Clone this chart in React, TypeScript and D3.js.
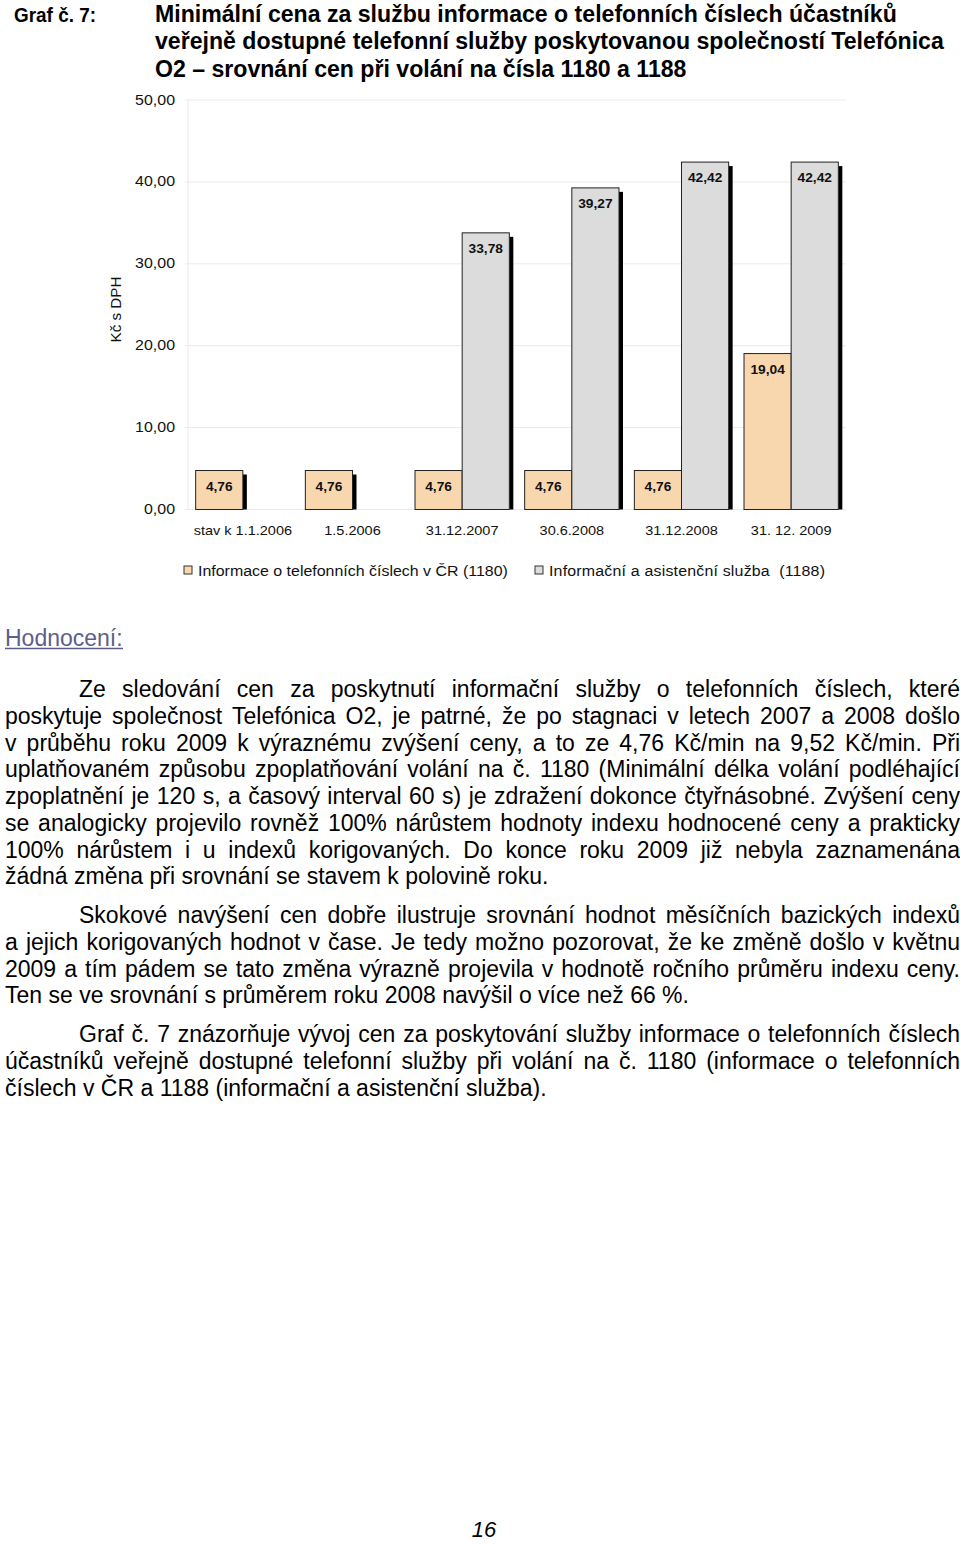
import React, { useMemo } from "react";
import * as d3 from "d3";

const categories = ["stav k 1.1.2006", "1.5.2006", "31.12.2007", "30.6.2008", "31.12.2008", "31. 12. 2009"];
const series1180 = [4.76, 4.76, 4.76, 4.76, 4.76, 19.04];
const series1188: (number | null)[] = [null, null, 33.78, 39.27, 42.42, 42.42];
const seriesNames = ["Informace o telefonních číslech v ČR (1180)", "Informační a asistenční služba \u00a0(1188)"];
const yTicks = [0, 10, 20, 30, 40, 50];
const yTitle = "Kč s DPH";

const titleLabel = "Graf č. 7:";
const titleLines = [
  "Minimální cena za službu informace o telefonních číslech účastníků",
  "veřejně dostupné telefonní služby poskytovanou společností Telefónica",
  "O2 – srovnání cen při volání na čísla 1180 a 1188",
];
const heading = "Hodnocení:";
const paragraphs: string[][] = [
  [
    "Ze sledování cen za poskytnutí informační služby o telefonních číslech, které",
    "poskytuje společnost Telefónica O2, je patrné, že po stagnaci v letech 2007 a 2008 došlo",
    "v průběhu roku 2009 k výraznému zvýšení ceny, a to ze 4,76 Kč/min na 9,52 Kč/min. Při",
    "uplatňovaném způsobu zpoplatňování volání na č. 1180 (Minimální délka volání podléhající",
    "zpoplatnění je 120 s, a časový interval 60 s) je zdražení dokonce čtyřnásobné. Zvýšení ceny",
    "se analogicky projevilo rovněž 100% nárůstem hodnoty indexu hodnocené ceny a prakticky",
    "100% nárůstem i u indexů korigovaných. Do konce roku 2009 již nebyla zaznamenána",
    "žádná změna při srovnání se stavem k polovině roku.",
  ],
  [
    "Skokové navýšení cen dobře ilustruje srovnání hodnot měsíčních bazických indexů",
    "a jejich korigovaných hodnot v čase. Je tedy možno pozorovat, že ke změně došlo v květnu",
    "2009 a tím pádem se tato změna výrazně projevila v hodnotě ročního průměru indexu ceny.",
    "Ten se ve srovnání s průměrem roku 2008 navýšil o více než 66 %.",
  ],
  [
    "Graf č. 7 znázorňuje vývoj cen za poskytování služby informace o telefonních číslech",
    "účastníků veřejně dostupné telefonní služby při volání na č. 1180 (informace o telefonních",
    "číslech v ČR a 1188 (informační a asistenční služba).",
  ],
];
const paragraphTops = [697, 923, 1042];
const pageNumber = "16";

const FONT = "'Liberation Sans', Arial, sans-serif";
const COLORS = ["#F9D7AE", "#DCDCDC"];
const SX = 1.1;

function SText({ x, y, size, anchor = "start", weight = "normal", length, children }: any) {
  return (
    <text
      transform={`translate(${x},${y}) scale(${SX},1)`}
      fontSize={size}
      fontWeight={weight}
      textAnchor={anchor}
      fontFamily={FONT}
      fill="#111"
      textLength={length}
      lengthAdjust={length ? "spacing" : undefined}
    >
      {children}
    </text>
  );
}

function JustifiedLine({ text, x0, x1, y, size, justify }: { text: string; x0: number; x1: number; y: number; size: number; justify: boolean }) {
  const words = text.split(" ");
  const positions = useMemo(() => {
    const c = document.createElement("canvas").getContext("2d")!;
    c.font = `${size}px 'Liberation Sans'`;
    const widths = words.map((w) => c.measureText(w).width);
    const total = widths.reduce((a, b) => a + b, 0);
    const space = c.measureText(" ").width;
    const gap = justify && words.length > 1 ? (x1 - x0 - total) / (words.length - 1) : space;
    const xs: number[] = [];
    let x = x0;
    widths.forEach((w) => {
      xs.push(x);
      x += w + gap;
    });
    return xs;
  }, [text, x0, x1, size, justify]);
  return (
    <text y={y} fontSize={size} fontFamily={FONT} fill="#000">
      {words.map((w, i) => (
        <tspan key={i} x={positions[i]}>
          {w}
        </tspan>
      ))}
    </text>
  );
}

export default function App() {
  const W = 960;
  const H = 1547;
  const plotLeft = 188;
  const plotRight = 846;
  const y = d3.scaleLinear().domain([0, 50]).range([509.5, 100]);
  const x = d3.scaleBand<string>().domain(categories).range([plotLeft, plotRight]).paddingInner(0.14).paddingOuter(0.07);
  const xi = d3.scaleBand<number>().domain([0, 1]).range([0, x.bandwidth()]);
  const fmt = (v: number) => d3.format(".2f")(v).replace(".", ",");

  const bars: { key: string; x: number; w: number; v: number; s: number }[] = [];
  categories.forEach((c, i) => {
    [series1180[i], series1188[i]].forEach((v, s) => {
      if (v == null) return;
      bars.push({ key: `${c}-${s}`, x: (x(c) as number) + (xi(s) as number), w: xi.bandwidth(), v, s });
    });
  });

  const bodySize = 23;
  const lineH = 26.75;
  const titleBase = [21.7, 49.4, 77.1];

  return (
    <svg width={W} height={H} style={{ position: "absolute", left: 0, top: 0, display: "block", background: "#fff" }}>
      {/* Title */}
      <text x={14} y={21.7} fontSize={21} fontWeight="bold" fontFamily={FONT} textLength={82} lengthAdjust="spacingAndGlyphs">
        {titleLabel}
      </text>
      {titleLines.map((t, i) => (
        <text key={i} x={155} y={titleBase[i]} fontSize={23.1} fontWeight="bold" fontFamily={FONT}>
          {t}
        </text>
      ))}

      {/* Gridlines */}
      {yTicks.map((t) => (
        <line key={t} x1={plotLeft - 3} x2={plotRight} y1={y(t)} y2={y(t)} stroke="#EBEBEB" strokeWidth={1} />
      ))}
      <line x1={plotLeft} x2={plotLeft} y1={y(50)} y2={y(0)} stroke="#EBEBEB" strokeWidth={1} />
      {yTicks.map((t) => (
        <SText key={t} x={175} y={y(t) + 4.5} size={14.5} anchor="end">
          {fmt(t)}
        </SText>
      ))}
      <text transform={`translate(121,309.5) rotate(-90) scale(${SX},1)`} fontSize={13.8} textAnchor="middle" fontFamily={FONT} fill="#111">
        {yTitle}
      </text>

      {/* Shadows */}
      {bars.map((b) => (
        <rect key={"sh" + b.key} x={b.x + b.w} y={y(b.v) + 4} width={4} height={y(0) - y(b.v) - 4} fill="#000" />
      ))}
      {/* Bars */}
      {bars.map((b) => (
        <rect key={b.key} x={b.x} y={y(b.v)} width={b.w} height={y(0) - y(b.v)} fill={COLORS[b.s]} stroke="#222" strokeWidth={1} />
      ))}
      {bars.map((b) => (
        <SText key={"l" + b.key} x={b.x + b.w / 2} y={y(b.v) + 20} size={12.5} weight="bold" anchor="middle">
          {fmt(b.v)}
        </SText>
      ))}

      {/* X labels */}
      {categories.map((c) => (
        <SText key={c} x={(x(c) as number) + x.bandwidth() / 2} y={535} size={13.2} anchor="middle">
          {c}
        </SText>
      ))}

      {/* Legend */}
      {seriesNames.map((n, i) => {
        const lx = i === 0 ? 184 : 535;
        return (
          <g key={n}>
            <rect x={lx} y={566} width={8} height={8} fill={COLORS[i]} stroke="#333" strokeWidth={1} />
            <SText x={lx + 14} y={575.5} size={14.5} length={i === 1 ? 276 / SX : undefined}>
              {n}
            </SText>
          </g>
        );
      })}

      {/* Heading */}
      <text x={5} y={645.5} fontSize={23} fontFamily={FONT} fill="#5E5E8C">
        {heading}
      </text>
      <line x1={5} x2={123} y1={648.5} y2={648.5} stroke="#5E5E8C" strokeWidth={1.3} />

      {/* Paragraphs */}
      {paragraphs.map((lines, p) =>
        lines.map((ln, i) => (
          <JustifiedLine
            key={`${p}-${i}`}
            text={ln}
            x0={i === 0 ? 79 : 5}
            x1={960}
            y={paragraphTops[p] + i * lineH}
            size={bodySize}
            justify={i < lines.length - 1}
          />
        ))
      )}

      {/* Page number */}
      <text x={484} y={1537} fontSize={22} fontStyle="italic" textAnchor="middle" fontFamily={FONT}>
        {pageNumber}
      </text>
    </svg>
  );
}
